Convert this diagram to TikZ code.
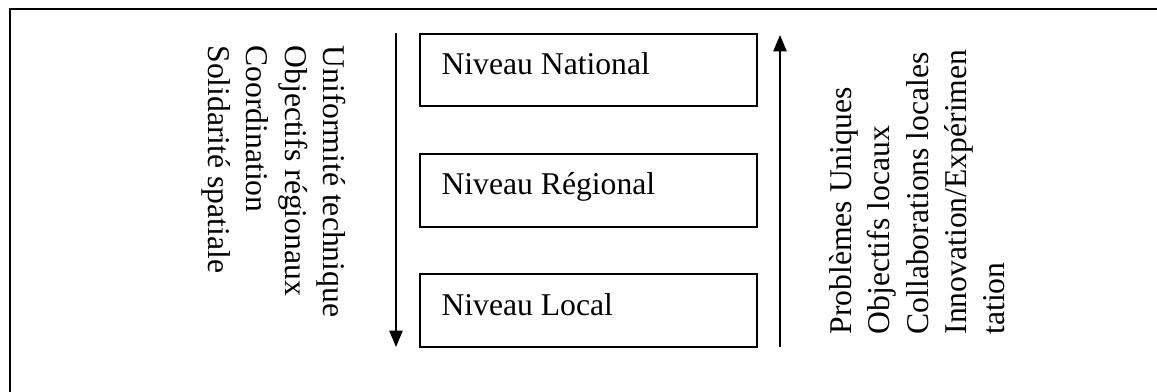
\documentclass[tikz,border=0pt]{standalone}
\usepackage{fontspec}
\setmainfont{Liberation Serif}
\usetikzlibrary{arrows.meta}
\tikzset{
  frame/.style={line width=0.8pt},
  levelbox/.style={draw, line width=0.6pt},
  levtext/.style={anchor=base west, inner sep=0pt, font=\fontsize{12}{14}\selectfont},
  downtxt/.style={anchor=base west, inner sep=0pt, rotate=-90, font=\fontsize{12}{14}\selectfont},
  uptxt/.style={anchor=base west, inner sep=0pt, rotate=90, font=\fontsize{12}{14}\selectfont},
  flow/.style={line width=0.6pt, -{Triangle[length=6.2pt,width=5pt]}}
}
\begin{document}
\begin{tikzpicture}[x=0.379pt,y=-0.379pt]
\useasboundingbox (0,0) rectangle (1157,392);
% outer frame (left and top edges visible)
\coordinate (fb) at (10,392);
\coordinate (fc) at (10,9);
\coordinate (fr) at (1157,9);
\draw[frame] (fb) -- (fc) -- (fr);
% level boxes
\draw[levelbox] (420,34) rectangle (757,106);
\draw[levelbox] (420,154) rectangle (757,227);
\draw[levelbox] (420,274) rectangle (757,347);
\node[levtext] (nat) at (441,75) {Niveau National};
\node[levtext] (reg) at (441,195) {Niveau Régional};
\node[levtext] (loc) at (441,315) {Niveau Local};
% arrows
\coordinate (dtop) at (396,33);
\coordinate (dbot) at (396,347);
\coordinate (ubot) at (780,347);
\coordinate (utop) at (780,35);
\draw[flow] (dtop) -- (dbot);
\draw[flow] (ubot) -- (utop);
% left rotated text
\node[downtxt] (l1) at (323,45) {Uniformité technique};
\node[downtxt] (l2) at (285,45) {Objectifs régionaux};
\node[downtxt] (l3) at (246,45) {Coordination};
\node[downtxt] (l4) at (208,45) {Solidarité spatiale};
% right rotated text
\node[uptxt] (r1) at (851,335) {Problèmes Uniques};
\node[uptxt] (r2) at (889,335) {Objectifs locaux};
\node[uptxt] (r3) at (928,335) {Collaborations locales};
\node[uptxt] (r4) at (966,335) {Innovation/Expérimen};
\node[uptxt] (r5) at (1004,335) {tation};
\end{tikzpicture}
\end{document}
